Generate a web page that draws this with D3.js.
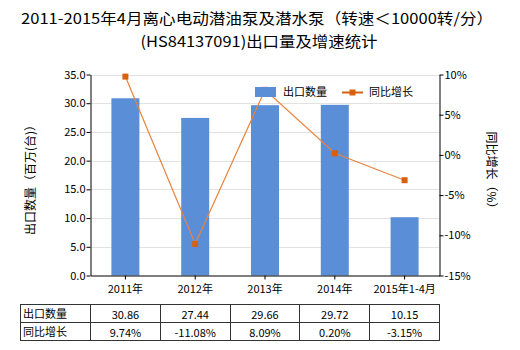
<!DOCTYPE html>
<html><head><meta charset="utf-8">
<script src="https://cdn.jsdelivr.net/npm/d3@7"></script>
<style>body{margin:0;background:#fff}svg{display:block}text{font-family:"Noto Sans CJK SC","Noto Sans",sans-serif;}</style>
</head><body><svg id="c" width="520" height="350"></svg>
<script>
const categories = ["2011年","2012年","2013年","2014年","2015年1-4月"];
const exportQty = [30.86, 27.44, 29.66, 29.72, 10.15];
const growth = [9.74, -11.08, 8.09, 0.20, -3.15];
const qtyLabels = ["30.86","27.44","29.66","29.72","10.15"];
const growthLabels = ["9.74%","-11.08%","8.09%","0.20%","-3.15%"];
const leftTicks = [0,5,10,15,20,25,30,35];
const rightTicks = [-15,-10,-5,0,5,10];

const svg = d3.select("#c");
const L = 90.5, R = 439.5, T = 74.5, B = 275.5;
const x = d3.scaleBand().domain(categories).range([L, R]);
const yL = d3.scaleLinear().domain([0,35]).range([B, T]);
const yR = d3.scaleLinear().domain([-15,10]).range([B, T]);
const barColor = "#5A8FD8", lineColor = "#E8843E", markColor = "#D9600F";

// title
const title = svg.append("text").attr("text-anchor","middle").attr("font-size",15).attr("fill","#000");
title.append("tspan").attr("x",257).attr("y",24).attr("textLength",472).attr("lengthAdjust","spacingAndGlyphs").text("2011-2015年4月离心电动潜油泵及潜水泵（转速＜10000转/分）");
title.append("tspan").attr("x",259).attr("y",47).attr("textLength",237).attr("lengthAdjust","spacingAndGlyphs").text("(HS84137091)出口量及增速统计");

// gridlines
svg.append("g").selectAll("line").data(leftTicks.filter(d=>d>0)).join("line")
  .attr("x1",L).attr("x2",R).attr("y1",d=>Math.round(yL(d))+0.5).attr("y2",d=>Math.round(yL(d))+0.5)
  .attr("stroke","#e2e2e2").attr("stroke-width",1);

// bars
svg.append("g").selectAll("rect").data(exportQty).join("rect")
  .attr("x",(d,i)=>x(categories[i])+x.bandwidth()/2-14).attr("width",28)
  .attr("y",d=>yL(d)).attr("height",d=>B-yL(d)).attr("fill",barColor);

// line
const line = d3.line().x((d,i)=>x(categories[i])+x.bandwidth()/2).y(d=>yR(d));
svg.append("path").datum(growth).attr("d",line).attr("fill","none").attr("stroke",lineColor).attr("stroke-width",1.2);
svg.append("g").selectAll("rect").data(growth).join("rect")
  .attr("x",(d,i)=>x(categories[i])+x.bandwidth()/2-3).attr("y",d=>yR(d)-3)
  .attr("width",6).attr("height",6).attr("fill",markColor);

// axes
const axL = svg.append("g").attr("transform",`translate(${L},0)`)
  .call(d3.axisLeft(yL).tickValues(leftTicks).tickFormat(d3.format(".1f")).tickSize(4).tickSizeOuter(0));
const axR = svg.append("g").attr("transform",`translate(${R},0)`)
  .call(d3.axisRight(yR).tickValues(rightTicks).tickFormat(d=>d+"%").tickSize(4).tickSizeOuter(0));
const axB = svg.append("g").attr("transform",`translate(0,${B})`)
  .call(d3.axisBottom(x).tickSize(4).tickSizeOuter(0));
[axL,axR,axB].forEach(a=>{
  a.selectAll("path,line").attr("stroke","#000");
  a.selectAll("text").attr("font-size",11).attr("fill","#000");
});
axL.selectAll("text").attr("x",-5);
axR.selectAll("text").attr("x",5);
axB.selectAll("text").attr("y",10);

// axis titles
svg.append("text").attr("transform","translate(35,177) rotate(-90)").attr("text-anchor","middle")
  .attr("font-size",12).text("出口数量（百万(台)）");
svg.append("text").attr("transform","translate(487,173) rotate(90)").attr("text-anchor","middle")
  .attr("font-size",12).text("同比增长（%）");

// legend
svg.append("rect").attr("x",255).attr("y",87).attr("width",21).attr("height",10).attr("fill",barColor);
svg.append("text").attr("x",283).attr("y",96).attr("font-size",11).text("出口数量");
svg.append("line").attr("x1",342).attr("x2",363).attr("y1",92.5).attr("y2",92.5).attr("stroke",markColor).attr("stroke-width",2);
svg.append("rect").attr("x",349.5).attr("y",89.5).attr("width",6).attr("height",6).attr("fill",markColor);
svg.append("text").attr("x",369).attr("y",96).attr("font-size",11).text("同比增长");

// table
const tT = 304.5, tM = 322.5, tB = 340.5, tL = 20.5;
const tg = svg.append("g");
const colEdges = [tL, L].concat(categories.map(c=>x(c)+x.bandwidth()));
tg.append("rect").attr("x",tL).attr("y",tT).attr("width",R-tL).attr("height",tB-tT).attr("fill","none").attr("stroke","#333");
tg.append("line").attr("x1",tL).attr("x2",R).attr("y1",tM).attr("y2",tM).attr("stroke","#333");
tg.selectAll("line.v").data(colEdges.slice(1,-1)).join("line").attr("class","v")
  .attr("x1",d=>Math.round(d-0.5)+0.5).attr("x2",d=>Math.round(d-0.5)+0.5).attr("y1",tT).attr("y2",tB).attr("stroke","#333");
tg.append("text").attr("x",23).attr("y",318).attr("font-size",11).text("出口数量");
tg.append("text").attr("x",23).attr("y",336).attr("font-size",11).text("同比增长");
tg.selectAll("text.q").data(qtyLabels).join("text").attr("class","q")
  .attr("x",(d,i)=>x(categories[i])+x.bandwidth()/2).attr("y",319).attr("text-anchor","middle").attr("font-size",11).text(d=>d);
tg.selectAll("text.g").data(growthLabels).join("text").attr("class","g")
  .attr("x",(d,i)=>x(categories[i])+x.bandwidth()/2).attr("y",337).attr("text-anchor","middle").attr("font-size",11).text(d=>d);
</script></body></html>
